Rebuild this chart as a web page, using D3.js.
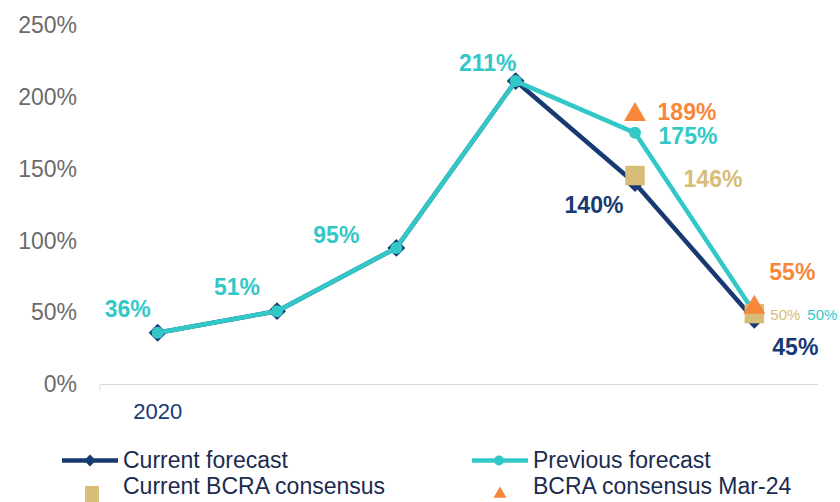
<!DOCTYPE html>
<html>
<head>
<meta charset="utf-8">
<script src="https://cdn.jsdelivr.net/npm/d3@7"></script>
<style>
  body { margin: 0; background: #fff; }
  svg { font-family: "Liberation Sans", Arial, sans-serif; }
</style>
</head>
<body>
<div id="chart"></div>
<script>
const years = ["2020", "2021", "2022", "2023", "2024", "2025"];
const yearLabels = ["2020", "", "", "", "", ""];
const currentForecast = [36, 51, 95, 211, 140, 45];
const previousForecast = [36, 51, 95, 211, 175, 50];
const bcraCurrent = [null, null, null, null, 146, 50];
const bcraMar24 = [null, null, null, null, 189, 55];
const yTicks = [0, 50, 100, 150, 200, 250];

const NAVY = "#173A72", TEAL = "#33C8C8", TAN = "#D8BD78", ORANGE = "#F7883A";

const W = 840, H = 502;
const svg = d3.select("#chart").append("svg").attr("width", W).attr("height", H);

const x = d3.scaleBand().domain(years).range([98, 814]);
const cx = d => x(d) + x.bandwidth() / 2;
const y = d3.scaleLinear().domain([0, 250]).range([384.5, 25]);

// y axis labels (no axis line)
const yAxis = svg.append("g").attr("transform", "translate(100,0)")
  .call(d3.axisLeft(y).tickValues(yTicks).tickSize(0).tickPadding(23).tickFormat(d => d + "%"));
yAxis.select(".domain").remove();
yAxis.selectAll("text").attr("fill", "#6b6b6b").attr("font-size", 23)
  .attr("font-family", "Liberation Sans, Arial, sans-serif");

// x axis
const xAxis = svg.append("g").attr("transform", `translate(0,${y(0)})`)
  .call(d3.axisBottom(x).tickSize(0).tickPadding(19).tickFormat((d, i) => yearLabels[i]));
xAxis.select(".domain").attr("stroke", "#d9d9d9").attr("d", `M100,6V0H818`);
xAxis.selectAll("text").attr("fill", NAVY).attr("font-size", 22)
  .attr("font-family", "Liberation Sans, Arial, sans-serif");

const line = d3.line().defined(d => d[1] != null).x(d => cx(d[0])).y(d => y(d[1]));
const pairs = arr => years.map((yr, i) => [yr, arr[i]]);

// current forecast
svg.append("path").datum(pairs(currentForecast)).attr("d", line)
  .attr("fill", "none").attr("stroke", NAVY).attr("stroke-width", 4.5).attr("stroke-linejoin", "round");
svg.selectAll(".cur").data(pairs(currentForecast)).enter().append("path")
  .attr("transform", d => `translate(${cx(d[0])},${y(d[1])}) rotate(45)`)
  .attr("d", d3.symbol().type(d3.symbolSquare).size(160)).attr("fill", NAVY);

// previous forecast
svg.append("path").datum(pairs(previousForecast)).attr("d", line)
  .attr("fill", "none").attr("stroke", TEAL).attr("stroke-width", 4.5).attr("stroke-linejoin", "round");
svg.selectAll(".prev").data(pairs(previousForecast)).enter().append("circle")
  .attr("cx", d => cx(d[0])).attr("cy", d => y(d[1])).attr("r", 6).attr("fill", TEAL);

// BCRA current
svg.selectAll(".bc").data(pairs(bcraCurrent).filter(d => d[1] != null)).enter().append("path")
  .attr("transform", d => `translate(${cx(d[0])},${y(d[1]) + 1})`)
  .attr("d", d3.symbol().type(d3.symbolSquare).size(380)).attr("fill", TAN);

// BCRA Mar-24
svg.selectAll(".bm").data(pairs(bcraMar24).filter(d => d[1] != null)).enter().append("path")
  .attr("transform", d => `translate(${cx(d[0])},${y(d[1]) + 2})`)
  .attr("d", d3.symbol().type(d3.symbolTriangle).size(210)).attr("fill", ORANGE);

// data labels (offsets from their point)
const labels = [
  { s: previousForecast, i: 0, dx: -30, dy: -16, c: TEAL, fs: 23, b: true },
  { s: previousForecast, i: 1, dx: -40, dy: -16, c: TEAL, fs: 23, b: true },
  { s: previousForecast, i: 2, dx: -60, dy: -5, c: TEAL, fs: 23, b: true },
  { s: previousForecast, i: 3, dx: -28, dy: -10, c: TEAL, fs: 23, b: true },
  { s: previousForecast, i: 4, dx: 53, dy: 11, c: TEAL, fs: 23, b: true },
  { s: previousForecast, i: 5, dx: 68, dy: 7, c: TEAL, fs: 15, b: false },
  { s: currentForecast, i: 4, dx: -41, dy: 30, c: NAVY, fs: 23, b: true },
  { s: currentForecast, i: 5, dx: 41, dy: 35, c: NAVY, fs: 23, b: true },
  { s: bcraCurrent, i: 4, dx: 78, dy: 12, c: TAN, fs: 23, b: true },
  { s: bcraCurrent, i: 5, dx: 31, dy: 7, c: TAN, fs: 15, b: false },
  { s: bcraMar24, i: 4, dx: 52, dy: 7, c: ORANGE, fs: 23, b: true },
  { s: bcraMar24, i: 5, dx: 38, dy: -25, c: ORANGE, fs: 23, b: true }
];
svg.selectAll(".lbl").data(labels).enter().append("text")
  .attr("x", d => cx(years[d.i]) + d.dx).attr("y", d => y(d.s[d.i]) + d.dy)
  .attr("text-anchor", "middle").attr("font-weight", d => d.b ? "bold" : "normal")
  .attr("font-size", d => d.fs).attr("fill", d => d.c)
  .text(d => d.s[d.i] + "%");

// legend
const lg = svg.append("g").attr("font-size", 23).attr("fill", "#1B2B50");
function legendLine(x0, yy, color, marker, label) {
  lg.append("line").attr("x1", x0).attr("x2", x0 + 56).attr("y1", yy).attr("y2", yy)
    .attr("stroke", color).attr("stroke-width", 4.5);
  if (marker === "diamond") {
    lg.append("path").attr("transform", `translate(${x0 + 28},${yy}) rotate(45)`)
      .attr("d", d3.symbol().type(d3.symbolSquare).size(70)).attr("fill", color);
  } else {
    lg.append("circle").attr("cx", x0 + 27).attr("cy", yy).attr("r", 5).attr("fill", color);
  }
  lg.append("text").attr("x", x0 + 61).attr("y", yy + 7).text(label);
}
legendLine(62, 460.5, NAVY, "diamond", "Current forecast");
legendLine(472, 460.5, TEAL, "circle", "Previous forecast");
lg.append("rect").attr("x", 85).attr("y", 486).attr("width", 14).attr("height", 16).attr("fill", TAN);
lg.append("text").attr("x", 123).attr("y", 494).text("Current BCRA consensus");
lg.append("path").attr("transform", "translate(500,494)")
  .attr("d", d3.symbol().type(d3.symbolTriangle).size(75)).attr("fill", ORANGE);
lg.append("text").attr("x", 533).attr("y", 494).text("BCRA consensus Mar-24");
</script>
</body>
</html>
